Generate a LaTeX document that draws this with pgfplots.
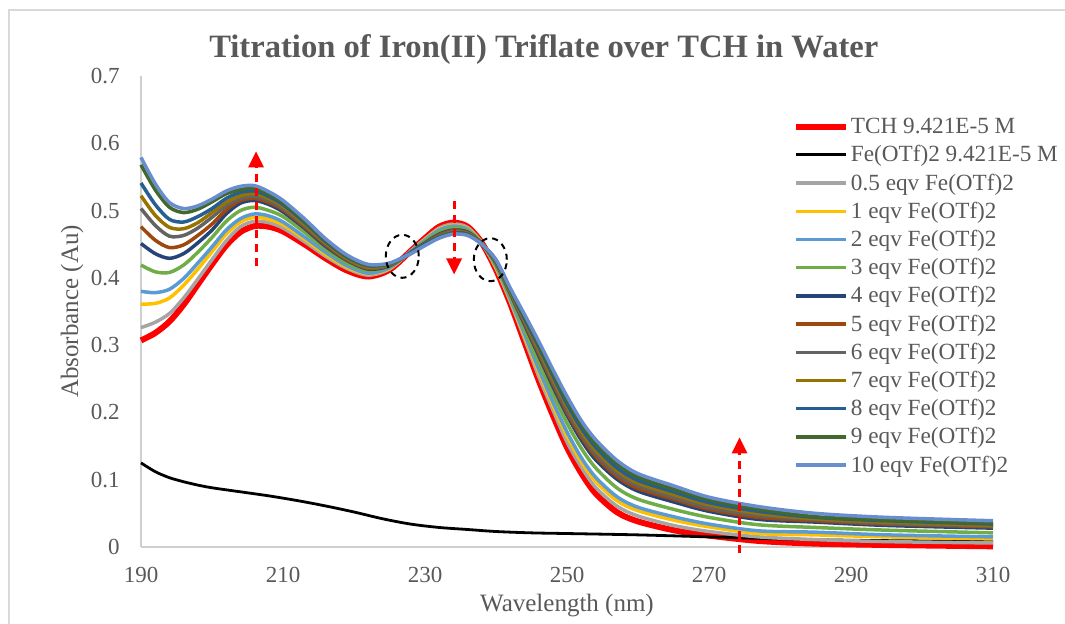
\documentclass[border=0pt]{standalone}
\usepackage{fontspec}
\setmainfont{Liberation Serif}
\usepackage{pgfplots}
\pgfplotsset{compat=1.18}
\usepackage{pgfplotstable}
\usetikzlibrary{arrows.meta}
\definecolor{txtgray}{HTML}{595959}
\definecolor{axgray}{HTML}{CFCFCF}
\definecolor{bordergray}{HTML}{D9D9D9}
\definecolor{cR}{HTML}{FF0000}
\definecolor{cA}{HTML}{A5A5A5}
\definecolor{cB}{HTML}{FFC000}
\definecolor{cC}{HTML}{5B9BD5}
\definecolor{cD}{HTML}{70AD47}
\definecolor{cE}{HTML}{264478}
\definecolor{cF}{HTML}{9E480E}
\definecolor{cG}{HTML}{636363}
\definecolor{cH}{HTML}{997300}
\definecolor{cI}{HTML}{255E91}
\definecolor{cJ}{HTML}{43682B}
\definecolor{cK}{HTML}{698ED0}

\pgfplotstableread{
x   r     h     e1    e2    e3    e4    e5    e6    e7    e8    e9    e10
190 0.307 0.326 0.361 0.380 0.419 0.451 0.476 0.503 0.522 0.541 0.568 0.579
192 0.318 0.334 0.362 0.378 0.409 0.436 0.456 0.478 0.493 0.509 0.531 0.540
194 0.335 0.347 0.370 0.383 0.408 0.429 0.445 0.462 0.475 0.487 0.505 0.512
196 0.360 0.370 0.389 0.399 0.419 0.436 0.449 0.463 0.473 0.483 0.497 0.503
198 0.390 0.398 0.413 0.422 0.438 0.452 0.463 0.474 0.482 0.491 0.502 0.507
200 0.420 0.427 0.439 0.446 0.460 0.471 0.480 0.490 0.497 0.503 0.513 0.517
202 0.448 0.455 0.465 0.471 0.484 0.495 0.501 0.507 0.512 0.518 0.525 0.529
204 0.468 0.476 0.483 0.488 0.500 0.511 0.515 0.518 0.522 0.527 0.531 0.536
206 0.477 0.484 0.490 0.495 0.505 0.515 0.518 0.521 0.525 0.529 0.533 0.537
208 0.476 0.482 0.487 0.492 0.500 0.509 0.512 0.515 0.518 0.521 0.524 0.528
210 0.469 0.474 0.479 0.483 0.491 0.498 0.501 0.503 0.506 0.509 0.512 0.515
213 0.450 0.454 0.458 0.461 0.468 0.474 0.476 0.478 0.480 0.483 0.485 0.488
216 0.429 0.432 0.435 0.438 0.443 0.447 0.449 0.451 0.452 0.454 0.456 0.458
219 0.411 0.414 0.416 0.418 0.422 0.426 0.427 0.428 0.429 0.431 0.432 0.434
222 0.402 0.404 0.406 0.407 0.411 0.413 0.414 0.415 0.416 0.418 0.419 0.420
225 0.412 0.413 0.414 0.415 0.417 0.418 0.419 0.419 0.420 0.421 0.421 0.422
228 0.440 0.440 0.439 0.439 0.438 0.438 0.437 0.437 0.437 0.437 0.436 0.436
230 0.459 0.458 0.457 0.456 0.454 0.452 0.451 0.451 0.450 0.450 0.449 0.448
232 0.476 0.474 0.472 0.471 0.468 0.465 0.464 0.463 0.462 0.461 0.460 0.459
234 0.482 0.480 0.478 0.477 0.474 0.471 0.470 0.469 0.468 0.467 0.466 0.465
236 0.476 0.475 0.473 0.472 0.470 0.468 0.467 0.466 0.466 0.465 0.464 0.463
238 0.452 0.452 0.452 0.451 0.451 0.451 0.451 0.451 0.450 0.450 0.450 0.450
240 0.412 0.414 0.415 0.417 0.419 0.422 0.422 0.423 0.424 0.425 0.426 0.427
242 0.362 0.365 0.367 0.369 0.373 0.377 0.378 0.379 0.380 0.382 0.383 0.385
244 0.305 0.310 0.314 0.317 0.324 0.331 0.333 0.335 0.338 0.340 0.343 0.346
246 0.248 0.254 0.261 0.265 0.275 0.285 0.288 0.291 0.294 0.298 0.302 0.306
248 0.196 0.204 0.211 0.216 0.228 0.239 0.243 0.246 0.250 0.255 0.259 0.264
250 0.148 0.156 0.165 0.171 0.184 0.196 0.200 0.204 0.209 0.213 0.219 0.224
252 0.110 0.119 0.127 0.133 0.147 0.159 0.164 0.168 0.172 0.177 0.183 0.188
254 0.080 0.089 0.098 0.104 0.118 0.130 0.135 0.139 0.144 0.149 0.154 0.160
257 0.052 0.061 0.069 0.075 0.088 0.101 0.105 0.109 0.114 0.118 0.124 0.129
260 0.038 0.046 0.054 0.059 0.071 0.083 0.087 0.091 0.095 0.099 0.104 0.109
265 0.025 0.032 0.040 0.045 0.056 0.067 0.071 0.074 0.078 0.082 0.086 0.091
270 0.017 0.023 0.030 0.034 0.044 0.053 0.056 0.059 0.063 0.066 0.070 0.074
277 0.009 0.015 0.020 0.024 0.033 0.041 0.044 0.047 0.050 0.053 0.056 0.060
285 0.005 0.011 0.018 0.022 0.029 0.037 0.039 0.041 0.042 0.044 0.045 0.050
295 0.003 0.008 0.015 0.018 0.025 0.032 0.034 0.035 0.037 0.039 0.040 0.044
310 0.001 0.006 0.012 0.015 0.021 0.028 0.030 0.031 0.032 0.034 0.035 0.039
}\spectra

\pgfplotstableread{
x   y
190 0.125
192 0.112
194 0.103
196 0.097
198 0.092
200 0.088
204 0.082
208 0.076
212 0.069
216 0.061
220 0.052
224 0.042
228 0.034
232 0.029
236 0.026
240 0.023
245 0.021
250 0.020
260 0.018
270 0.015
280 0.012
290 0.010
300 0.009
310 0.008
}\blk

\begin{document}
\begin{tikzpicture}
\begin{axis}[
  at={(70.5pt,38.5pt)}, anchor=south west,
  scale only axis, width=426pt, height=235.5pt,
  xmin=190, xmax=310, ymin=0, ymax=0.7,
  xtick={190,210,230,250,270,290,310},
  ytick={0,0.1,0.2,0.3,0.4,0.5,0.6,0.7},
  scaled y ticks=false,
  axis x line*=bottom, axis y line*=left,
  axis line style={draw=axgray, line width=0.75pt},
  major tick length=0pt,
  tick style={draw=none},
  /pgf/number format/assume math mode=true,
  ticklabel style={font=\fontsize{11.5}{13}\selectfont, text=txtgray, inner sep=0pt},
  yticklabel style={anchor=east, xshift=-10.5pt, /pgf/number format/fixed, /pgf/number format/precision=1},
  xticklabel style={anchor=base, yshift=-18pt},
  xlabel={Wavelength (nm)}, ylabel={Absorbance (Au)},
  label style={font=\fontsize{12.5}{15}\selectfont, text=txtgray},
  xlabel style={at={(axis description cs:0.5,-0.1253)}, anchor=center},
  ylabel style={at={(axis description cs:-0.081,0.5)}, anchor=center},
  title={Titration of Iron(II) Triflate over TCH in Water},
  title style={font=\fontsize{16.3}{19}\selectfont\bfseries, text=txtgray, at={(axis description cs:0.4728,1.0148)}, anchor=base},
  clip=false,
  legend cell align=left,
  legend image code/.code={\draw[#1] (0pt,0pt) -- (25pt,0pt);},
  legend style={draw=none, fill=none, at={(axis description cs:0.7652,0.9223)}, anchor=north west,
    inner sep=0pt, outer sep=0pt, row sep=0pt, column sep=1pt,
    font=\fontsize{11.6}{13}\selectfont, text=txtgray,
    nodes={inner sep=0pt, text height=10.6pt, text depth=3.5pt}},
]
\addplot[cR, line width=3pt, smooth] table[x=x,y=r]{\spectra};
\addlegendentry{TCH 9.421E-5 M}
\addplot[black, line width=1.4pt, smooth] table[x=x,y=y]{\blk};
\addlegendentry{Fe(OTf)2 9.421E-5 M}
\addplot[cA, line width=1.75pt, smooth] table[x=x,y=h]{\spectra};
\addlegendentry{0.5 eqv Fe(OTf)2}
\addplot[cB, line width=1.75pt, smooth] table[x=x,y=e1]{\spectra};
\addlegendentry{1 eqv Fe(OTf)2}
\addplot[cC, line width=1.75pt, smooth] table[x=x,y=e2]{\spectra};
\addlegendentry{2 eqv Fe(OTf)2}
\addplot[cD, line width=1.75pt, smooth] table[x=x,y=e3]{\spectra};
\addlegendentry{3 eqv Fe(OTf)2}
\addplot[cE, line width=1.75pt, smooth] table[x=x,y=e4]{\spectra};
\addlegendentry{4 eqv Fe(OTf)2}
\addplot[cF, line width=1.75pt, smooth] table[x=x,y=e5]{\spectra};
\addlegendentry{5 eqv Fe(OTf)2}
\addplot[cG, line width=1.75pt, smooth] table[x=x,y=e6]{\spectra};
\addlegendentry{6 eqv Fe(OTf)2}
\addplot[cH, line width=1.75pt, smooth] table[x=x,y=e7]{\spectra};
\addlegendentry{7 eqv Fe(OTf)2}
\addplot[cI, line width=1.75pt, smooth] table[x=x,y=e8]{\spectra};
\addlegendentry{8 eqv Fe(OTf)2}
\addplot[cJ, line width=1.75pt, smooth] table[x=x,y=e9]{\spectra};
\addlegendentry{9 eqv Fe(OTf)2}
\addplot[cK, line width=1.75pt, smooth] table[x=x,y=e10]{\spectra};
\addlegendentry{10 eqv Fe(OTf)2}

\draw[cR, line width=1.5pt, dash pattern=on 4pt off 3pt, -{Triangle[width=7.5pt,length=8pt]}]
  (axis cs:206.2,0.417) -- (axis cs:206.2,0.588);
\draw[cR, line width=1.5pt, dash pattern=on 4pt off 3pt, -{Triangle[width=7.5pt,length=8pt]}]
  (axis cs:234.1,0.514) -- (axis cs:234.1,0.405);
\draw[cR, line width=1.5pt, dash pattern=on 4pt off 3pt, -{Triangle[width=7.5pt,length=8pt]}]
  (axis cs:274.3,-0.009) -- (axis cs:274.3,0.163);
\draw[black, line width=1pt, dash pattern=on 3pt off 2.5pt]
  (axis cs:226.8,0.432) ellipse [x radius=8.25pt, y radius=10.75pt];
\draw[black, line width=1pt, dash pattern=on 3pt off 2.5pt]
  (axis cs:239.2,0.427) ellipse [x radius=8.25pt, y radius=10.75pt];
\end{axis}
\draw[bordergray, line width=0.6pt] (4.5pt,-10pt) -- (4.5pt,307pt) -- (545pt,307pt);
\pgfresetboundingbox
\useasboundingbox (0,0) rectangle (532.5pt,312pt);
\end{tikzpicture}
\end{document}
